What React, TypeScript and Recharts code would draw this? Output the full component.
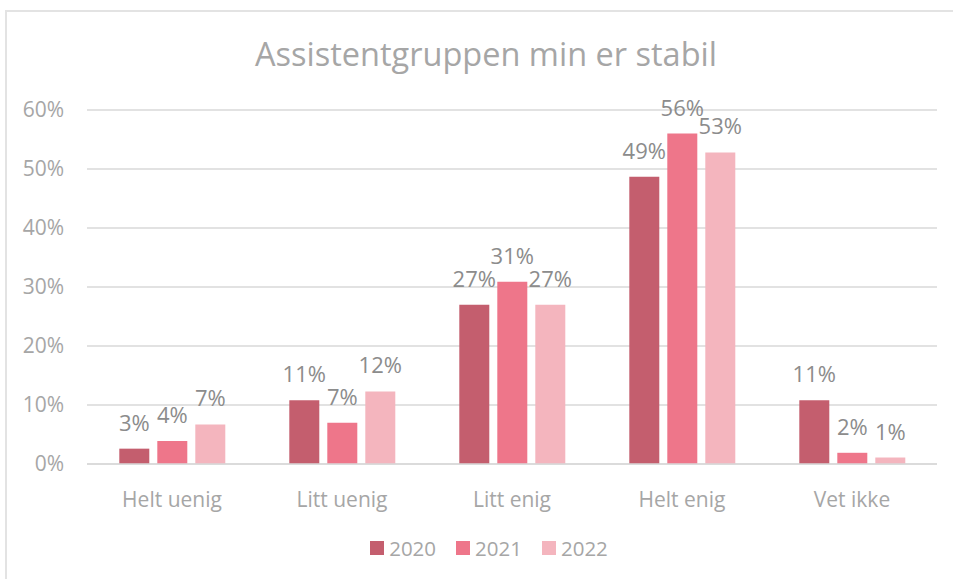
import React from 'react';
import { BarChart, Bar, CartesianGrid, XAxis, YAxis, Legend, LabelList } from 'recharts';

const categories = ['Helt uenig', 'Litt uenig', 'Litt enig', 'Helt enig', 'Vet ikke'];
const values2020 = [2.6, 10.8, 27, 48.7, 10.8];
const values2021 = [3.9, 7.0, 30.9, 56, 1.9];
const values2022 = [6.7, 12.3, 27, 52.8, 1.1];
const yTicks = [0, 10, 20, 30, 40, 50, 60];

const series = [
  { key: '2020', colour: '#c45e6e' },
  { key: '2021', colour: '#ee768a' },
  { key: '2022', colour: '#f4b5be' },
];

const data = categories.map((name, i) => ({
  name,
  '2020': values2020[i],
  '2021': values2021[i],
  '2022': values2022[i],
}));

const font = '"Open Sans", sans-serif';
const pct = (v: number) => `${Math.round(v)}%`;

const LegendBox = () => (
  <div style={{ display: 'flex', justifyContent: 'center', alignItems: 'center', fontFamily: font, fontSize: 20.5, color: '#a6a6a6' }}>
    {series.map((s) => (
      <div key={s.key} style={{ display: 'flex', alignItems: 'center', margin: '0 10px' }}>
        <span style={{ width: 14, height: 14, background: s.colour, marginRight: 5, display: 'inline-block' }} />
        <span>{s.key}</span>
      </div>
    ))}
  </div>
);

export default function App() {
  return (
    <div style={{ position: 'absolute', left: 0, top: 0, width: 953, height: 579, overflow: 'hidden', background: '#fff' }}>
      <div style={{ position: 'absolute', left: 5, top: 10, width: 1000, height: 1000, border: '2px solid #e3e3e3' }} />
      <div style={{ position: 'absolute', left: 0, width: 972, top: 34, textAlign: 'center', fontFamily: font, fontSize: 32.5, color: '#a6a6a6', lineHeight: '40px' }}>
        Assistentgruppen min er stabil
      </div>
      <BarChart
        width={953}
        height={579}
        data={data}
        margin={{ top: 110, right: 16, left: 0, bottom: 47 }}
        barCategoryGap="19%"
        barGap={8}
        style={{ position: 'absolute', left: 0, top: 0 }}
      >
        <CartesianGrid vertical={false} stroke="#d9d9d9" strokeWidth={1.5} />
        <XAxis
          dataKey="name"
          height={40}
          tickLine={false}
          axisLine={{ stroke: '#d9d9d9', strokeWidth: 1.5 }}
          tickMargin={22}
          tick={{ fill: '#a6a6a6', fontSize: 21, fontFamily: font }}
        />
        <YAxis
          width={87}
          domain={[0, 60]}
          ticks={yTicks}
          tickFormatter={(v: number) => `${v}%`}
          axisLine={false}
          tickLine={false}
          tickSize={0}
          tickMargin={23}
          tick={{ fill: '#a6a6a6', fontSize: 21, fontFamily: font }}
        />
        <Legend content={<LegendBox />} wrapperStyle={{ top: 534, left: 0, width: 978 }} />
        {series.map((s) => (
          <Bar key={s.key} dataKey={s.key} fill={s.colour} isAnimationActive={false}>
            <LabelList
              dataKey={s.key}
              position="top"
              offset={18}
              formatter={(v: number) => pct(v)}
              style={{ fill: '#8c8c8c', fontSize: 22, fontFamily: font }}
            />
          </Bar>
        ))}
      </BarChart>
    </div>
  );
}
